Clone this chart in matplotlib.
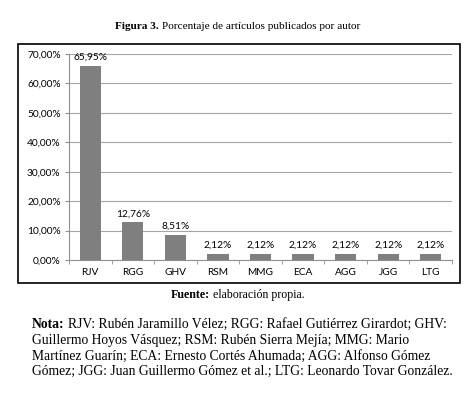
import matplotlib
matplotlib.use("Agg")
import matplotlib.pyplot as plt
from matplotlib.patches import Rectangle

authors = ['RJV', 'RGG', 'GHV', 'RSM', 'MMG', 'ECA', 'AGG', 'JGG', 'LTG']
percent = [65.95, 12.76, 8.51, 2.12, 2.12, 2.12, 2.12, 2.12, 2.12]
yticks = [0, 10, 20, 30, 40, 50, 60, 70]

title_bold = 'Figura 3.'
title_rest = 'Porcentaje de artículos publicados por autor'
source_bold = 'Fuente:'
source_rest = 'elaboración propia.'
note_lines = [
    ('Nota:', 'RJV: Rubén Jaramillo Vélez; RGG: Rafael Gutiérrez Girardot; GHV:'),
    ('', 'Guillermo Hoyos Vásquez; RSM: Rubén Sierra Mejía; MMG: Mario'),
    ('', 'Martínez Guarín; ECA: Ernesto Cortés Ahumada; AGG: Alfonso Gómez'),
    ('', 'Gómez; JGG: Juan Guillermo Gómez et al.; LTG: Leonardo Tovar González.'),
]

W, H = 476, 395
fig = plt.figure(figsize=(W / 100, H / 100), dpi=100)
fig.patch.set_facecolor('white')

serif = 'Liberation Serif'
sans = 'Lato'
csize = 7.3


def px(x, y):
    """ pixel coords (top-left origin) to figure fraction """
    return x / W, 1 - y / H


def mixed_text(x, y, bold, rest, size, ha='left'):
    """ draw bold part then normal part on one line """
    r = fig.canvas.get_renderer()
    fx, fy = px(x, y)
    t1 = fig.text(fx, fy, bold, fontsize=size, family=serif, weight='bold', va='baseline')
    t2 = fig.text(fx, fy, rest, fontsize=size, family=serif, va='baseline')
    gap = size * 0.27 * 100 / 72 if bold else 0
    w1 = t1.get_window_extent(r).width + gap if bold else 0
    w2 = t2.get_window_extent(r).width
    if ha == 'center':
        start = x - (w1 + w2) / 2
    else:
        start = x
    t1.set_x(start / W)
    t2.set_x((start + w1) / W)


# frame around the chart
fx0, fy0 = px(18, 283)
fx1, fy1 = px(460, 44)
fig.patches.append(Rectangle((fx0, fy0), fx1 - fx0, fy1 - fy0, transform=fig.transFigure,
                             fill=False, edgecolor='black', linewidth=1.2))

ax0, ay0 = px(69, 260)
ax1, ay1 = px(452, 54)
ax = fig.add_axes([ax0, ay0, ax1 - ax0, ay1 - ay0])

x = range(len(authors))
ax.bar(x, percent, width=0.5, color='#7f7f7f', zorder=3)
ax.set_xlim(-0.5, len(authors) - 0.5)
ax.set_ylim(0, 70)
ax.set_yticks(yticks)
ax.set_yticklabels([f'{v:.2f}%'.replace('.', ',') for v in yticks], fontsize=csize, family=sans)
ax.set_xticks(list(x))
ax.set_xticklabels(authors, fontsize=csize, family=sans)
ax.set_xticks([i + 0.5 for i in range(-1, len(authors))], minor=True)
ax.tick_params(axis='x', which='major', length=0, pad=6)
ax.tick_params(axis='x', which='minor', length=3, color='#909090')
ax.tick_params(axis='y', length=3, color='#909090', pad=3)
ax.grid(axis='y', color='#a6a6a6', linewidth=0.8, zorder=0)
for s in ['top', 'right']:
    ax.spines[s].set_visible(False)
ax.spines['left'].set_color('#909090')
ax.spines['bottom'].set_color('#909090')
ax.set_facecolor('none')

for i, v in enumerate(percent):
    ax.annotate(f'{v:.2f}%'.replace('.', ','), (i, v), xytext=(0, 3), textcoords='offset points',
                ha='center', va='bottom', fontsize=csize, family=sans)

mixed_text(238, 29, title_bold, title_rest, 8.1, ha='center')
mixed_text(238, 298, source_bold, source_rest, 8.6, ha='center')
ys = [328, 344, 360, 375]
for (b, r), yy in zip(note_lines, ys):
    mixed_text(32, yy, b, r, 9.8)

fig.savefig('out.png', dpi=100)
